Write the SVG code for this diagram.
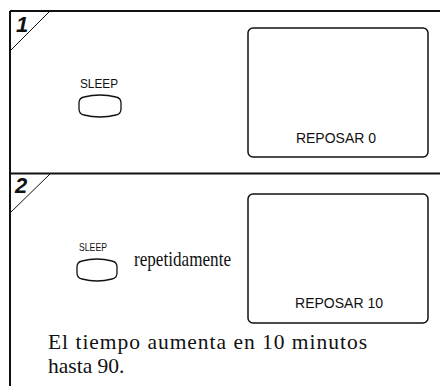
<svg xmlns="http://www.w3.org/2000/svg" width="440" height="386" viewBox="0 0 440 386">
<style>
.frame{stroke:#111;stroke-width:2;fill:none}
.diag{stroke:#111;stroke-width:1;fill:none}
.num{font-family:"Liberation Sans",Arial,sans-serif;font-weight:bold;font-style:italic;font-size:22px;fill:#111}
.btn{fill:#fff;stroke:#111;stroke-width:1.3}
.lbl{font-family:"Liberation Sans",Arial,sans-serif;fill:#111}
.disp{fill:#fff;stroke:#111;stroke-width:1.5}
.ser{font-family:"Liberation Serif","Times New Roman",serif;fill:#111}
</style>
<rect width="440" height="386" fill="#fff"/>
<g id="frame">
<path class="frame" d="M10 11 H440 M10 11 V386 M10 173.5 H440"/>
<path class="diag" d="M49 12 L10 51 M50 174 L10 213"/>
<text class="num" x="16" y="32">1</text>
<text class="num" x="15" y="193">2</text>
</g>
<g id="step1-button">
<text class="lbl" x="80" y="88" font-size="12" textLength="38" lengthAdjust="spacingAndGlyphs">SLEEP</text>
<path class="btn" d="M84 97 Q100 93 116 97 Q121 98 121 103 L121 109 Q121 114 116 115 Q100 119 84 115 Q79 114 79 109 L79 103 Q79 98 84 97 Z"/>
</g>
<g id="step1-display">
<rect class="disp" x="248" y="28" width="180" height="129" rx="5"/>
<text class="lbl" x="336" y="143" font-size="14" text-anchor="middle">REPOSAR 0</text>
</g>
<g id="step2-button">
<text class="lbl" x="79" y="251" font-size="10.5" textLength="28" lengthAdjust="spacingAndGlyphs">SLEEP</text>
<path class="btn" d="M82 261 Q97 257 112 261 Q117 262 117 267 L117 273 Q117 278 112 279 Q97 283 82 279 Q77 278 77 273 L77 267 Q77 262 82 261 Z"/>
<text class="ser" x="134" y="266" font-size="21" textLength="97" lengthAdjust="spacingAndGlyphs">repetidamente</text>
</g>
<g id="step2-display">
<rect class="disp" x="248" y="194" width="180" height="129" rx="5"/>
<text class="lbl" x="339" y="308" font-size="14" text-anchor="middle">REPOSAR 10</text>
</g>
<g id="note">
<text class="ser" x="48" y="349" font-size="21.5" textLength="319" lengthAdjust="spacing">El tiempo aumenta en 10 minutos</text>
<text class="ser" x="48" y="373" font-size="21.5">hasta 90.</text>
</g>
</svg>
